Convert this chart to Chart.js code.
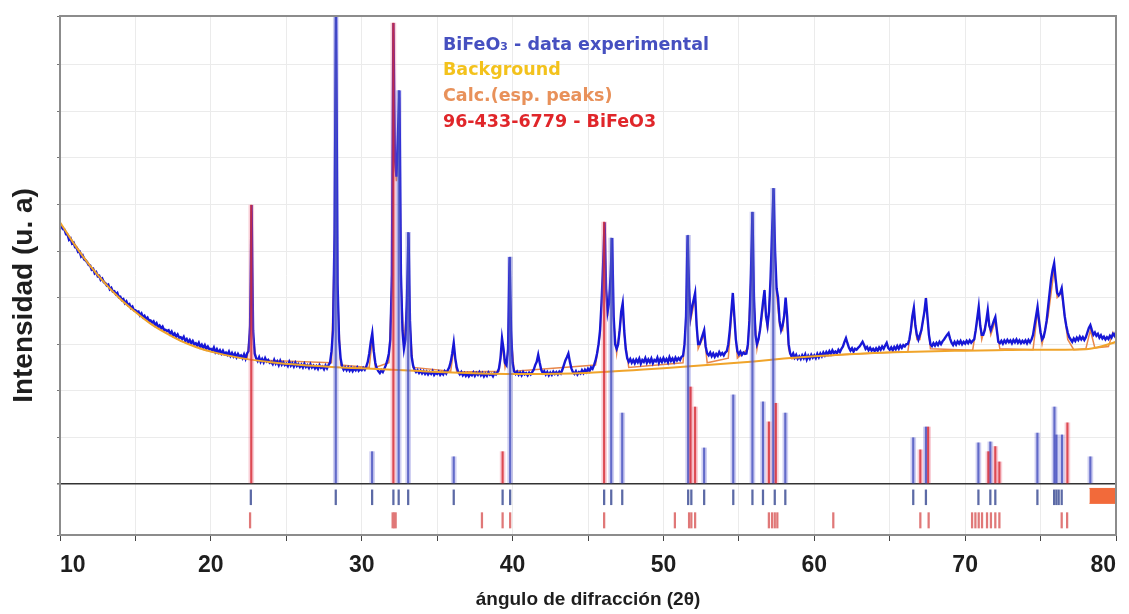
<!DOCTYPE html>
<html>
<head>
<meta charset="utf-8">
<script src="https://cdn.jsdelivr.net/npm/chart.js@4.4.1/dist/chart.umd.min.js"></script>
<style>
  html, body { margin: 0; padding: 0; background: #fff; }
  #wrap { width: 1129px; height: 614px; }
</style>
</head>
<body>
<div id="wrap"><canvas id="xrdChart" width="1129" height="614"></canvas></div>
<script>
// patrón experimental: un valor cada 0.1° desde 10°
const expStart = 10;
const expStep = 0.1;
const expCounts = [
  5.58, 5.52, 5.47, 5.46, 5.36, 5.35, 5.24, 5.27, 5.16, 5.18,
  5.08, 5.07, 4.98, 4.99, 4.88, 4.91, 4.82, 4.80, 4.76, 4.70,
  4.69, 4.60, 4.62, 4.52, 4.55, 4.46, 4.47, 4.38, 4.41, 4.33,
  4.31, 4.26, 4.28, 4.18, 4.21, 4.13, 4.14, 4.07, 4.10, 4.01,
  4.02, 3.95, 3.97, 3.88, 3.92, 3.84, 3.86, 3.78, 3.81, 3.73,
  3.73, 3.69, 3.70, 3.62, 3.66, 3.58, 3.61, 3.54, 3.57, 3.50,
  3.51, 3.46, 3.49, 3.41, 3.45, 3.37, 3.40, 3.34, 3.38, 3.30,
  3.31, 3.28, 3.30, 3.22, 3.27, 3.19, 3.23, 3.16, 3.21, 3.14,
  3.15, 3.11, 3.16, 3.07, 3.11, 3.04, 3.09, 3.02, 3.07, 3.00,
  3.02, 2.97, 3.03, 2.94, 2.99, 2.92, 2.98, 2.90, 2.95, 2.89,
  2.90, 2.86, 2.93, 2.83, 2.89, 2.82, 2.87, 2.80, 2.86, 2.79,
  2.82, 2.77, 2.84, 2.75, 2.81, 2.74, 2.80, 2.72, 2.79, 2.73,
  2.76, 2.70, 2.78, 2.69, 2.80, 2.85, 3.40, 5.99, 3.30, 2.80,
  2.70, 2.64, 2.72, 2.62, 2.68, 2.61, 2.70, 2.63, 2.66, 2.60,
  2.62, 2.57, 2.66, 2.58, 2.63, 2.55, 2.64, 2.56, 2.61, 2.55,
  2.58, 2.53, 2.62, 2.54, 2.59, 2.52, 2.60, 2.53, 2.57, 2.51,
  2.56, 2.50, 2.58, 2.51, 2.55, 2.49, 2.57, 2.50, 2.54, 2.48,
  2.53, 2.47, 2.55, 2.49, 2.52, 2.46, 2.54, 2.48, 2.55, 2.60,
  2.85, 3.30, 5.40, 10.20, 4.30, 3.10, 2.70, 2.52, 2.45, 2.50,
  2.44, 2.50, 2.43, 2.49, 2.42, 2.48, 2.44, 2.50, 2.43, 2.47,
  2.44, 2.49, 2.45, 2.52, 2.62, 2.80, 3.05, 3.24, 2.85, 2.60,
  2.48, 2.42, 2.38, 2.44, 2.40, 2.47, 2.55, 2.65, 2.80, 3.10,
  4.50, 9.90, 7.00, 6.60, 7.50, 8.45, 4.50, 3.30, 2.90, 3.10,
  4.00, 5.40, 3.50, 2.75, 2.55, 2.45, 2.40, 2.44, 2.38, 2.43,
  2.37, 2.42, 2.36, 2.41, 2.35, 2.40, 2.36, 2.42, 2.34, 2.39,
  2.36, 2.41, 2.34, 2.39, 2.35, 2.42, 2.37, 2.44, 2.50, 2.62,
  2.80, 3.03, 2.70, 2.50, 2.40, 2.35, 2.40, 2.33, 2.38, 2.32,
  2.37, 2.31, 2.36, 2.33, 2.39, 2.32, 2.38, 2.34, 2.40, 2.33,
  2.38, 2.31, 2.37, 2.32, 2.39, 2.34, 2.36, 2.31, 2.38, 2.35,
  2.40, 2.48, 2.70, 3.13, 2.90, 2.60, 2.55, 2.90, 4.87, 3.30,
  2.60, 2.42, 2.36, 2.41, 2.34, 2.39, 2.33, 2.40, 2.35, 2.38,
  2.33, 2.39, 2.35, 2.40, 2.45, 2.55, 2.62, 2.77, 2.60, 2.45,
  2.38, 2.42, 2.35, 2.40, 2.33, 2.39, 2.34, 2.41, 2.36, 2.40,
  2.35, 2.41, 2.37, 2.45, 2.55, 2.65, 2.72, 2.80, 2.62, 2.48,
  2.40, 2.36, 2.42, 2.35, 2.40, 2.37, 2.44, 2.38, 2.45, 2.40,
  2.47, 2.42, 2.50, 2.47, 2.55, 2.65, 2.80, 3.00, 3.30, 3.90,
  4.70, 5.62, 4.20, 3.70, 3.90, 4.50, 5.28, 3.60, 3.00, 2.90,
  3.00, 3.30, 3.70, 3.88, 3.30, 2.90, 2.70, 2.62, 2.68, 2.60,
  2.66, 2.59, 2.67, 2.61, 2.69, 2.58, 2.66, 2.62, 2.70, 2.60,
  2.67, 2.61, 2.69, 2.59, 2.66, 2.63, 2.71, 2.60, 2.68, 2.62,
  2.70, 2.63, 2.68, 2.61, 2.72, 2.64, 2.69, 2.62, 2.71, 2.65,
  2.70, 2.66, 2.73, 2.75, 3.00, 3.60, 5.34, 4.20, 3.60, 3.80,
  3.95, 4.10, 3.40, 3.00, 3.00, 3.10, 3.20, 3.30, 2.95, 2.80,
  2.76, 2.82, 2.74, 2.80, 2.73, 2.79, 2.75, 2.83, 2.77, 2.81,
  2.76, 2.82, 2.85, 3.00, 3.30, 3.70, 4.10, 3.60, 3.10, 2.85,
  2.78, 2.84, 2.77, 2.82, 2.79, 2.80, 3.00, 3.50, 4.50, 5.84,
  4.00, 3.20, 3.00, 3.10, 3.30, 3.60, 3.90, 4.16, 3.60, 3.40,
  3.70, 4.40, 5.40, 6.35, 5.00, 4.20, 4.00, 3.50, 3.30, 3.40,
  3.60, 4.00, 3.60, 3.00, 2.80, 2.74, 2.80, 2.71, 2.77, 2.69,
  2.74, 2.68, 2.76, 2.70, 2.78, 2.67, 2.75, 2.69, 2.77, 2.71,
  2.76, 2.70, 2.79, 2.72, 2.80, 2.74, 2.82, 2.76, 2.83, 2.78,
  2.85, 2.79, 2.87, 2.81, 2.84, 2.80, 2.88, 2.83, 2.90, 2.95,
  3.05, 3.13, 3.02, 2.92, 2.86, 2.91, 2.84, 2.90, 2.88, 2.92,
  2.95, 3.00, 3.05, 2.98, 2.90, 2.94, 2.87, 2.92, 2.86, 2.90,
  2.85, 2.91, 2.86, 2.93, 2.88, 2.95, 2.90, 2.97, 3.03, 2.92,
  2.88, 2.93, 2.87, 2.94, 2.89, 2.96, 2.90, 2.97, 2.92, 2.98,
  2.95, 3.00, 3.00, 3.10, 3.30, 3.60, 3.78, 3.40, 3.20, 3.10,
  3.20, 3.30, 3.50, 3.70, 3.99, 3.60, 3.20, 3.00, 2.96, 3.02,
  2.97, 3.03, 2.98, 3.05, 3.00, 3.06, 3.10, 3.15, 3.20, 3.24,
  3.12, 3.03, 2.98, 3.05, 2.99, 3.06, 3.01, 3.07, 3.00, 3.05,
  3.01, 3.07, 3.02, 3.08, 3.03, 3.07, 3.10, 3.30, 3.55, 3.80,
  3.40, 3.20, 3.20, 3.30, 3.50, 3.73, 3.40, 3.30, 3.40, 3.50,
  3.58, 3.30, 3.05, 3.02, 3.07, 3.01, 3.08, 3.03, 3.09, 3.04,
  3.08, 3.02, 3.09, 3.04, 3.10, 3.03, 3.08, 3.02, 3.07, 3.03,
  3.08, 3.02, 3.09, 3.04, 3.10, 3.20, 3.40, 3.60, 3.80, 3.50,
  3.25, 3.10, 3.15, 3.30, 3.50, 3.80, 4.10, 4.40, 4.60, 4.74,
  4.40, 4.10, 4.05, 4.10, 4.20, 3.90, 3.60, 3.40, 3.25, 3.15,
  3.10, 3.05, 3.12, 3.07, 3.14, 3.09, 3.16, 3.10, 3.15, 3.09,
  3.15, 3.25, 3.35, 3.41, 3.30, 3.20, 3.25, 3.18, 3.22, 3.14,
  3.19, 3.12, 3.16, 3.10, 3.15, 3.11, 3.18, 3.14, 3.22, 3.18,
  3.26
];

// fondo (background)
const bgAngles = [10, 11, 12, 13, 14, 15, 16, 17, 18, 19, 20, 22, 24, 26, 28, 30, 32, 34, 36, 38, 40, 42, 44, 46, 48, 50, 52, 54, 56, 58, 60, 62, 64, 66, 68, 70, 72, 74, 76, 78, 79, 80];
const bgValues = [5.62, 5.12, 4.68, 4.30, 3.97, 3.69, 3.44, 3.24, 3.07, 2.94, 2.84, 2.70, 2.61, 2.55, 2.51, 2.48, 2.45, 2.42, 2.39, 2.37, 2.36, 2.36, 2.37, 2.40, 2.44, 2.48, 2.53, 2.58, 2.63, 2.69, 2.74, 2.78, 2.81, 2.83, 2.85, 2.86, 2.87, 2.88, 2.88, 2.89, 2.95, 3.05];

// perfil calculado [ángulo, intensidad]
const calcProfile = [
  [10, 5.6], [12, 4.68], [14, 3.97], [16, 3.44], [18, 3.07], [20, 2.84], [22.4, 2.69], [22.6, 3.3], [22.7, 5.85], [22.8, 3.2], [23.0, 2.66],
  [28.0, 2.6], [28.2, 5.2], [28.3, 10.1], [28.4, 4.1], [28.6, 2.55],
  [30.5, 2.5], [30.7, 3.1], [30.9, 2.5],
  [31.8, 2.6], [32.0, 4.3], [32.1, 9.7], [32.2, 6.9], [32.3, 6.5], [32.4, 7.3], [32.5, 8.3], [32.6, 4.4], [32.8, 2.9], [33.0, 3.9], [33.1, 5.3], [33.2, 3.4], [33.4, 2.5],
  [35.9, 2.42], [36.1, 2.9], [36.3, 2.4],
  [39.1, 2.42], [39.3, 3.0], [39.5, 2.5], [39.7, 2.8], [39.8, 4.75], [39.9, 3.2], [40.1, 2.42],
  [45.5, 2.55], [45.8, 3.2], [46.0, 4.6], [46.1, 5.5], [46.2, 4.1], [46.3, 3.6], [46.5, 4.4], [46.6, 5.15], [46.7, 3.5], [46.9, 2.8], [47.2, 3.6], [47.3, 3.8], [47.4, 3.2], [47.7, 2.5],
  [51.3, 2.6], [51.5, 3.5], [51.6, 5.2], [51.7, 4.1], [51.8, 3.5], [52.1, 4.0], [52.3, 2.9], [52.7, 3.2], [52.9, 2.6],
  [54.3, 2.7], [54.6, 4.0], [54.9, 2.7],
  [55.6, 2.9], [55.8, 4.4], [55.9, 5.7], [56.0, 3.9], [56.2, 2.9], [56.5, 3.5], [56.7, 4.05], [56.9, 3.3], [57.1, 4.3], [57.3, 6.2], [57.4, 4.9], [57.5, 4.1], [57.7, 3.4], [57.9, 3.3], [58.1, 3.9], [58.3, 2.9], [58.5, 2.69],
  [62, 2.78], [66.2, 2.84], [66.6, 3.7], [66.8, 3.1], [67.0, 3.1], [67.4, 3.9], [67.7, 2.9],
  [70.5, 2.87], [70.9, 3.7], [71.1, 3.1], [71.5, 3.6], [71.7, 3.2], [72.0, 3.5], [72.3, 2.9],
  [74.5, 2.88], [74.8, 3.7], [75.1, 3.0], [75.5, 3.6], [75.9, 4.6], [76.1, 4.0], [76.4, 4.1], [76.8, 3.1], [77.2, 2.88],
  [78.0, 2.9], [78.3, 3.3], [78.6, 2.92], [79.5, 2.95], [79.8, 3.25], [80, 3.1]
];

// lista de picos (azul) y referencia 96-433-6779 (rojo): [ángulo, altura]
const peakSticks = [
  [28.28, 10.1], [30.69, 0.69], [32.45, 8.45], [33.08, 5.4], [36.1, 0.58], [39.84, 4.87],
  [46.54, 5.28], [47.27, 1.52], [51.64, 5.34], [52.7, 0.77], [54.63, 1.91], [55.9, 5.84],
  [56.6, 1.76], [57.28, 6.35], [58.08, 1.52], [66.56, 0.99], [67.4, 1.22], [70.88, 0.88],
  [71.67, 0.9], [74.79, 1.09], [75.92, 1.65], [76.05, 1.05], [76.42, 1.05], [78.3, 0.58]
];
const refSticks = [
  [22.68, 5.99], [32.1, 9.9], [39.34, 0.69], [46.07, 5.62], [51.8, 2.08], [52.1, 1.65],
  [56.99, 1.33], [57.45, 1.73], [67.03, 0.73], [67.55, 1.22], [71.54, 0.69], [72.0, 0.8],
  [72.27, 0.47], [76.78, 1.31]
];

// marcas de posición bajo la línea base
const peakMarks = [22.65, 28.28, 30.69, 32.1, 32.45, 33.08, 36.1, 39.34, 39.84, 46.07, 46.54, 47.27, 51.64, 51.85, 52.7, 54.63, 55.9, 56.6, 57.38, 58.08, 66.56, 67.4, 70.88, 71.67, 72.0, 74.79, 75.9, 76.05, 76.2, 76.4];
const refMarks = [22.6, 32.05, 32.15, 32.25, 37.97, 39.34, 39.84, 46.07, 50.76, 51.7, 51.85, 52.1, 56.99, 57.2, 57.38, 57.55, 61.26, 67.03, 67.58, 70.46, 70.68, 70.9, 71.12, 71.45, 71.71, 72.0, 72.27, 76.4, 76.76];
const peakMarkRange = [-0.13, -0.45];
const refMarkRange = [-0.62, -0.95];
const excludedRange = [78.24, 80];
const excludedRows = [-0.1, -0.42];

const legendEntries = [
  ['BiFeO\u2083 - data experimental', '#4650c0'],
  ['Background', '#f3c21c'],
  ['Calc.(esp. peaks)', '#e8915a'],
  ['96-433-6779 - BiFeO3', '#e0262a']
];
const yTitle = 'Intensidad (u. a)';

const FONT = '"Liberation Sans", Arial, sans-serif';
Chart.defaults.font.family = FONT;

const expPoints = expCounts.map((v, i) => ({ x: +(expStart + i * expStep).toFixed(2), y: v }));
const bgPoints = bgAngles.map((a, i) => ({ x: a, y: bgValues[i] }));
const calcPoints = calcProfile.map(([a, v]) => ({ x: a, y: v }));
const stickData = list => list.map(([a, h]) => ({ x: a, y: [0, h] }));
const markData = (list, r) => list.map(a => ({ x: a, y: r }));

// marco, leyenda de texto y título vertical
const frameAndLegend = {
    id: 'frameAndLegend',
    afterDraw(chart) {
        const { ctx, chartArea: a } = chart;
        ctx.save();
        ctx.strokeStyle = '#8c8c8c';
        ctx.lineWidth = 2;
        ctx.strokeRect(a.left, a.top, a.right - a.left, a.bottom - a.top);

        ctx.font = 'bold 17.5px "DejaVu Sans", sans-serif';
        ctx.textBaseline = 'middle';
        legendEntries.forEach(([txt, col], i) => {
            ctx.fillStyle = col;
            ctx.fillText(txt, a.left + 383, a.top + 29 + i * 25.7);
        });

        ctx.translate(24, (a.top + a.bottom) / 2 + 20);
        ctx.rotate(-Math.PI / 2);
        ctx.font = 'bold 28px ' + FONT;
        ctx.textAlign = 'center';
        ctx.fillStyle = '#1e1e1e';
        ctx.fillText(yTitle, 0, 0);
        ctx.restore();
    }
};

const ctx = document.getElementById('xrdChart').getContext('2d');
new Chart(ctx, {
    type: 'line',
    data: {
        datasets: [
            { type: 'bar', label: 'ref fill', data: stickData(refSticks), backgroundColor: 'rgba(235,110,135,0.32)', barThickness: 5, order: 2 },
            { type: 'bar', label: 'peak fill', data: stickData(peakSticks), backgroundColor: 'rgba(110,110,215,0.32)', barThickness: 5, order: 2 },
            { type: 'bar', label: 'ref', data: stickData(refSticks), backgroundColor: 'rgba(214,40,50,0.8)', barThickness: 1.5, order: 1 },
            { type: 'bar', label: 'peaks', data: stickData(peakSticks), backgroundColor: 'rgba(70,80,190,0.8)', barThickness: 1.5, order: 1 },
            { type: 'bar', label: 'peak marks', data: markData(peakMarks, peakMarkRange), backgroundColor: '#5c6aa6', barThickness: 1.6, order: 1 },
            { type: 'bar', label: 'ref marks', data: markData(refMarks, refMarkRange), backgroundColor: '#e07878', barThickness: 1.6, order: 1 },
            { label: 'excl top', data: excludedRange.map(a => ({ x: a, y: excludedRows[0] })), borderColor: '#f26a3a', backgroundColor: '#f26a3a', borderWidth: 1, pointRadius: 0, fill: '+1', order: 1 },
            { label: 'excl bottom', data: excludedRange.map(a => ({ x: a, y: excludedRows[1] })), borderColor: '#f26a3a', borderWidth: 1, pointRadius: 0, fill: false, order: 1 },
            { label: 'Background', data: bgPoints, borderColor: '#f0a42a', borderWidth: 2, pointRadius: 0, cubicInterpolationMode: 'monotone', fill: false, order: 3 },
            { label: 'BiFeO\u2083 - data experimental', data: expPoints, borderColor: '#1717d6', borderWidth: 2.4, pointRadius: 0, fill: false, order: 4 },
            { label: 'Calc.(esp. peaks)', data: calcPoints, borderColor: '#e8874a', borderWidth: 1.5, pointRadius: 0, fill: false, order: 5 }
        ]
    },
    options: {
        responsive: false,
        animation: false,
        events: [],
        layout: { padding: { top: 16, right: 13, left: 0, bottom: 0 } },
        datasets: { bar: { grouped: false } },
        plugins: {
            legend: { display: false },
            tooltip: { enabled: false }
        },
        scales: {
            x: {
                type: 'linear',
                min: 10,
                max: 80,
                offset: false,
                afterFit(scale) { scale.height = 79; },
                border: { display: false },
                grid: { color: '#ebebeb', tickColor: '#444', tickLength: 6, offset: false },
                ticks: {
                    stepSize: 5,
                    align: 'inner',
                    maxRotation: 0,
                    autoSkip: false,
                    padding: 11,
                    color: '#1e1e1e',
                    font: { size: 23, weight: 'bold' },
                    callback: v => (v % 10 === 0 ? String(v) : '')
                },
                title: {
                    display: true,
                    text: 'ángulo de difracción (2θ)',
                    color: '#1e1e1e',
                    font: { size: 19, weight: 'bold' },
                    padding: { top: 0, bottom: 3 }
                }
            },
            y: {
                min: -1.1,
                max: 10.05,
                afterFit(scale) { scale.width = 60; },
                border: { display: false },
                grid: {
                    color: c => (c.tick && c.tick.value === 0 ? '#333333' : '#ebebeb'),
                    lineWidth: c => (c.tick && c.tick.value === 0 ? 1.6 : 1),
                    tickColor: '#777',
                    tickLength: 3
                },
                ticks: { stepSize: 1, display: false }
            }
        }
    },
    plugins: [frameAndLegend]
});
</script>
</body>
</html>
